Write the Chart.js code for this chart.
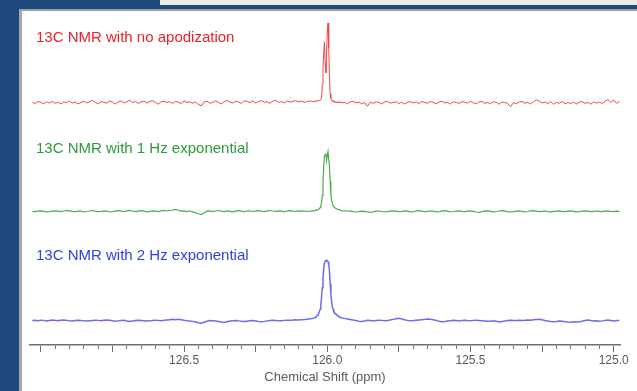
<!DOCTYPE html>
<html>
<head>
<meta charset="utf-8">
<title>13C NMR apodization</title>
<style>
  html, body { margin: 0; width: 637px; height: 391px; overflow: hidden; background: #1f4a7d; }
  #strip { position: absolute; left: 160px; top: 0; right: 0; height: 5px; background: #ececec; }
  #panel { position: absolute; left: 19px; top: 9px; right: 0; bottom: 0; background: #fff;
           border-left: 3px solid #a9a9a9; border-top: 2px solid #9d9d9d; }
  #nmr { position: absolute; left: 0; top: 0; }
  .lbl { position: absolute; left: 36px; font: 15px Arial, "Liberation Sans", sans-serif;
         line-height: 17px; white-space: nowrap; }
</style>
</head>
<body>
<div id="strip"></div>
<div id="panel"></div>
<canvas id="nmr" width="637" height="391"></canvas>
<div class="lbl" id="lbl0" style="top:28px;color:#e8222c"></div>
<div class="lbl" id="lbl1" style="top:139px;color:#2c9a3c"></div>
<div class="lbl" id="lbl2" style="top:246px;color:#3242e0"></div>

<script src="https://cdn.jsdelivr.net/npm/chart.js"></script>
<script>
// chemical shift (ppm) sample points: coarse / peak region / coarse
const ppmLeft = [
  127.03, 127.02, 127.01, 127.00, 126.99, 126.98, 126.97, 126.96, 126.95, 126.94,
  126.93, 126.92, 126.91, 126.90, 126.89, 126.88, 126.87, 126.86, 126.85, 126.84,
  126.83, 126.82, 126.81, 126.80, 126.79, 126.78, 126.77, 126.76, 126.75, 126.74,
  126.73, 126.72, 126.71, 126.70, 126.69, 126.68, 126.67, 126.66, 126.65, 126.64,
  126.63, 126.62, 126.61, 126.60, 126.59, 126.58, 126.57, 126.56, 126.55, 126.54,
  126.53, 126.52, 126.51, 126.50, 126.49, 126.48, 126.47, 126.46, 126.45, 126.44,
  126.43, 126.42, 126.41, 126.40, 126.39, 126.38, 126.37, 126.36, 126.35, 126.34,
  126.33, 126.32, 126.31, 126.30, 126.29, 126.28, 126.27, 126.26, 126.25, 126.24,
  126.23, 126.22, 126.21, 126.20, 126.19, 126.18, 126.17, 126.16, 126.15, 126.14,
  126.13, 126.12, 126.11, 126.10, 126.09, 126.08, 126.07, 126.06
];
const ppmPeak = [
  126.05, 126.0475, 126.045, 126.0425, 126.04, 126.0375, 126.035, 126.0325, 126.03, 126.0275,
  126.025, 126.0225, 126.02, 126.0175, 126.015, 126.0125, 126.01, 126.0075, 126.005, 126.0025,
  126.0, 125.9975, 125.995, 125.9925, 125.99, 125.9875, 125.985, 125.9825, 125.98, 125.9775,
  125.975, 125.9725, 125.97, 125.9675, 125.965, 125.9625, 125.96, 125.9575, 125.955, 125.9525,
  125.95
];
const ppmRight = [
  125.94, 125.93, 125.92, 125.91, 125.90, 125.89, 125.88, 125.87, 125.86, 125.85,
  125.84, 125.83, 125.82, 125.81, 125.80, 125.79, 125.78, 125.77, 125.76, 125.75,
  125.74, 125.73, 125.72, 125.71, 125.70, 125.69, 125.68, 125.67, 125.66, 125.65,
  125.64, 125.63, 125.62, 125.61, 125.60, 125.59, 125.58, 125.57, 125.56, 125.55,
  125.54, 125.53, 125.52, 125.51, 125.50, 125.49, 125.48, 125.47, 125.46, 125.45,
  125.44, 125.43, 125.42, 125.41, 125.40, 125.39, 125.38, 125.37, 125.36, 125.35,
  125.34, 125.33, 125.32, 125.31, 125.30, 125.29, 125.28, 125.27, 125.26, 125.25,
  125.24, 125.23, 125.22, 125.21, 125.20, 125.19, 125.18, 125.17, 125.16, 125.15,
  125.14, 125.13, 125.12, 125.11, 125.10, 125.09, 125.08, 125.07, 125.06, 125.05,
  125.04, 125.03, 125.02, 125.01, 125.00, 124.99, 124.98
];

// intensities (a.u.)
const noApod = [
  // 127.03 - 126.06
  0.5, -0.8, 1.2, 0.2, -1.0, 0.9, -0.3, 1.4, -0.6, 0.3,
  -1.2, 0.8, 0.1, 1.6, -0.4, 0.6, -1.1, 0.3, 1.5, -0.2,
  0.9, 2.3, 0.2, -0.9, 1.1, 0.4, -0.5, 1.8, 0.6, -1.3,
  0.7, 1.9, -0.2, 1.0, 2.4, 0.1, 1.3, -0.7, 0.8, 1.7,
  -0.4, 1.2, 2.0, 0.3, -1.5, 0.9, 1.6, 0.2, 1.1, -0.6,
  1.4, 0.5, -0.9, 1.8, 0.2, 0.9, -0.5, 0.7, -1.8, -3.2,
  0.8, 1.6, -0.5, 0.4, 1.9, 0.3, -1.2, 1.0, 2.2, 0.6,
  -0.3, 1.5, 0.9, -0.8, 2.1, 1.2, 0.1, 1.7, -0.4, 1.3,
  2.0, 0.4, 1.1, -0.6, 1.6, 2.5, 0.5, 1.0, -0.2, 1.8,
  0.6, 1.4, 2.1, 0.9, 1.5, 0.3, 1.2, 1.8,
  // 126.05 - 125.95
  1.0, 1.6, 0.7, 1.9, 1.2, 2.2, 1.4, 2.0, 2.6, 1.8,
  2.9, 3.5, 5.0, 18, 36, 50, 61, 40, 30, 50,
  72, 80, 55, 27, 9, 4.5, 2.8, 1.4, 2.0, 0.6,
  1.5, 0.3, 1.1, -0.2, 0.8, 0.2, 1.2, -0.3, 0.6, 0.9,
  -0.2,
  // 125.94 - 124.98
  0.4, -0.9, 0.8, 1.3, -0.2, 0.6, -1.1, 0.2, -3.5, 0.5,
  -0.6, 1.0, 0.3, -1.2, 0.7, 1.4, -0.4, 0.2, 0.9, -0.8,
  0.5, -1.4, 0.6, 1.1, -0.3, 0.8, -0.9, 1.3, 0.1, -0.5,
  1.2, 0.3, -1.0, 0.7, 1.5, -0.2, 0.4, -1.3, 0.9, 0.2,
  -0.7, 1.1, 0.5, -0.4, 1.6, 0.0, -1.1, 0.8, 1.4, -0.6,
  0.3, -0.9, 1.0, 0.4, -1.5, 0.6, 0.2, -0.8, -4.0, 0.1,
  -1.0, 0.7, 1.2, -0.5, 0.3, -1.2, 0.9, 3.0, 1.5, -0.3,
  0.6, -0.8, 1.1, -1.6, 0.4, -0.6, 1.3, -1.0, 0.2, -0.9,
  0.8, -1.3, 0.5, 1.2, -0.7, 0.3, -1.5, 0.9, -0.4, 0.6,
  -0.8, 1.5, 3.2, 0.4, 2.8, -0.5, 1.0
];
const exp1Hz = [
  0.0, -0.3, 0.2, 0.5, 0.1, -0.4, -0.2, 0.3, 0.6, 0.2,
  -0.3, 0.4, 1.0, 0.6, 0.1, -0.2, 0.3, 0.2, -0.5, -0.1,
  0.4, 0.9, 0.3, -0.2, 0.1, 0.6, 0.2, -0.6, -0.3, 0.2,
  0.7, 0.3, -0.1, 0.5, 1.1, 0.4, -0.2, 0.3, 0.8, 0.2,
  -0.4, 0.1, 0.6, 0.2, -0.3, 0.5, 1.0, 0.4, 0.9, 1.4,
  2.0, 1.2, 0.3, 0.6, -0.2, 0.4, -0.5, -1.2, -2.4, -3.3,
  -1.5, 0.2, 0.5, -0.3, 0.4, 0.9, 0.3, -0.2, 0.5, 0.1,
  -0.4, 0.3, 0.8, 0.2, -0.3, 0.4, 0.6, -0.1, 0.3, 0.7,
  0.2, -0.2, 0.5, 0.9, 0.4, 0.0, 0.6, 0.3, -0.3, 0.4,
  0.8, 0.3, 0.1, 0.6, 0.2, 0.4, -0.1, 0.3,
  0.5, 0.6, 0.8, 1.0, 1.2, 1.3, 1.5, 1.8, 2.2, 2.8,
  3.8, 5.5, 8.5, 16, 30, 45, 55, 57, 58, 51,
  56, 60, 60, 46, 30, 17, 11, 8, 6, 5,
  4, 3.5, 3, 2.6, 2.3, 2, 1.8, 1.5, 1.3, 1.0,
  0.8,
  0.6, 0.4, 0.2, -0.3, -0.6, -0.2, 0.3, 0.1, -0.4, -0.8,
  -0.5, 0.2, 0.4, -0.1, -0.6, -0.3, 0.3, 0.6, 0.2, -0.2,
  0.1, 0.5, 0.3, -0.4, -0.2, 0.4, 0.8, 0.3, -0.3, 0.0,
  0.4, 0.2, -0.5, -0.2, 0.3, 0.7, 0.2, -0.4, -0.1, 0.3,
  0.6, 0.1, -0.3, 0.2, 0.5, 0.0, -0.6, -0.9, -0.3, 0.2,
  0.5, 0.1, -0.4, -0.1, 0.4, 0.7, 0.2, -0.3, -0.6, -0.2,
  0.3, 0.5, 0.0, -0.4, -0.1, 0.5, 0.8, 0.3, -0.2, 0.1,
  0.4, -0.2, -0.5, 0.0, 0.3, 0.6, 0.1, -0.3, 0.2, 0.5,
  0.1, -0.4, -0.2, 0.3, 0.6, 0.2, -0.3, 0.0, 0.4, 0.1,
  -0.3, 0.2, 0.5, 0.1, -0.2, 0.3, 0.0
];
const exp2Hz = [
  0.0, 0.3, -0.2, 0.4, 0.2, -0.3, 0.1, 0.5, 0.2, -0.1,
  0.3, 0.6, 0.2, -0.2, -0.4, 0.0, 0.3, 0.1, -0.3, -0.5,
  -0.2, 0.1, 0.4, 0.2, -0.1, 0.3, 0.6, 0.4, -0.2, -0.6,
  -0.3, 0.0, 0.2, -0.4, -0.8, -0.5, 0.0, 0.3, 0.1, -0.2,
  -0.5, -0.3, 0.1, 0.4, 0.2, -0.1, 0.3, 0.6, 0.9, 1.2,
  0.8, 1.2, 0.9, 0.3, -0.2, -0.4, -0.8, -1.5, -2.2, -2.6,
  -1.6, -0.6, 0.0, -0.2, -0.5, -0.9, -1.5, -1.9, -1.2, -0.5,
  -0.2, 0.1, -0.3, -0.8, -1.0, -0.6, -0.2, 0.0, -0.4, -0.9,
  -1.2, -0.8, -0.3, 0.1, 0.3, 0.0, -0.3, -0.1, 0.2, 0.4,
  0.3, 0.5, 0.8, 0.7, 0.9, 1.1, 1.4, 1.8,
  2.2, 2.5, 2.9, 3.2, 3.6, 4.2, 5.0, 6.0, 7.0, 9.0,
  11.5, 16, 23, 33, 43, 52, 57.5, 59.5, 60.3, 60.5,
  60.3, 59.3, 56, 50, 37, 26, 19, 14, 11.5, 9.5,
  8.2, 7.3, 6.5, 5.8, 5.2, 4.6, 4.1, 3.7, 3.3, 3.0,
  2.7,
  2.2, 1.6, 1.0, 0.5, 0.1, -0.6, -0.9, -0.4, 0.2, 0.0,
  -0.3, 0.1, 0.4, 0.2, -0.2, 0.1, 0.6, 1.2, 1.8, 2.2,
  1.6, 0.8, 0.2, -0.2, 0.0, 0.3, 0.6, 0.9, 1.2, 1.5,
  1.4, 0.9, 0.2, -0.6, -1.2, -0.9, -0.4, -0.1, 0.2, 0.0,
  -0.3, 0.1, 0.3, 0.0, -0.2, 0.2, 0.4, 0.1, -0.2, -0.5,
  -0.8, -0.6, -0.3, -0.7, -1.3, -1.0, -0.4, 0.0, 0.2, 0.0,
  0.1, 0.3, 0.1, 0.3, 0.6, 0.4, 0.8, 1.1, 1.3, 0.8,
  0.1, -0.5, -1.0, -1.3, -0.9, -0.4, -0.6, -1.1, -1.5, -1.6,
  -1.2, -1.5, -1.3, -0.6, 0.1, 0.5, 0.0, -0.4, -0.2, -0.6,
  -0.3, 0.2, 0.5, 0.1, -0.3, 0.1, 0.0
];

const seriesNames = ['13C NMR with no apodization', '13C NMR with 1 Hz exponential', '13C NMR with 2 Hz exponential'];
const xTickLabels = [126.5, 126.0, 125.5, 125.0];
const xMajorTicks = [127.0, 126.75, 126.5, 126.25, 126.0, 125.75, 125.5, 125.25, 125.0];

const ppm = ppmLeft.concat(ppmPeak, ppmRight);
[noApod, exp1Hz, exp2Hz].forEach((s, i) => {
  if (s.length !== ppm.length) console.warn('series ' + i + ' length ' + s.length + ' != ' + ppm.length);
});

seriesNames.forEach((name, i) => {
  document.getElementById('lbl' + i).textContent = name;
});

const near = (a, b) => Math.abs(a - b) < 1e-6;
const toPoints = vals => ppm.map((x, i) => ({ x: x, y: vals[i] }));
const font = 'Arial, "Liberation Sans", sans-serif';

// one hidden y axis per spectrum, stacked top to bottom
function bandAxis(weight, min, max) {
  return {
    type: 'linear', position: 'left', stack: 'spectra', stackWeight: 1, weight: weight,
    min: min, max: max,
    ticks: { display: false },
    grid: { display: false, drawTicks: false },
    border: { display: false }
  };
}

new Chart(document.getElementById('nmr'), {
  type: 'line',
  data: {
    datasets: [
      { label: seriesNames[0], data: toPoints(noApod), yAxisID: 'yRed', borderColor: '#f04848', borderWidth: 1 },
      { label: seriesNames[1], data: toPoints(exp1Hz), yAxisID: 'yGreen', borderColor: '#4cac4c', borderWidth: 1.2 },
      { label: seriesNames[2], data: toPoints(exp2Hz), yAxisID: 'yBlue', borderColor: '#6c6cf0', borderWidth: 1.5 }
    ]
  },
  options: {
    responsive: false,
    animation: false,
    devicePixelRatio: 1,
    layout: { padding: { top: 10, left: 30, right: 17, bottom: 4 } },
    elements: { point: { radius: 0 }, line: { tension: 0 } },
    plugins: { legend: { display: false }, tooltip: { enabled: false } },
    scales: {
      x: {
        type: 'linear', position: 'bottom', reverse: true,
        min: 124.978, max: 127.038,
        border: { display: true, color: '#707070', width: 1.5 },
        grid: {
          drawOnChartArea: false, tickLength: 7, tickColor: '#707070', tickWidth: 1,
          // minor ticks: only the first part of the tick mark is drawn
          tickBorderDash: ctx => (ctx.tick && xMajorTicks.some(v => near(v, ctx.tick.value))) ? [] : [3.5, 20]
        },
        ticks: {
          stepSize: 0.05, includeBounds: false, autoSkip: false, maxRotation: 0, minRotation: 0,
          padding: 1, color: '#5a5a5a', font: { family: font, size: 12 },
          callback: v => xTickLabels.some(t => near(t, v)) ? v.toFixed(1) : ''
        },
        title: {
          display: true, text: 'Chemical Shift (ppm)', color: '#5a5a5a',
          font: { family: font, size: 13 }, padding: { top: 1, bottom: 2 }
        }
      },
      yRed: bandAxis(3, -19, 93),
      yGreen: bandAxis(2, -22, 90),
      yBlue: bandAxis(1, -24.5, 87.5)
    }
  }
});
</script>
</body>
</html>
